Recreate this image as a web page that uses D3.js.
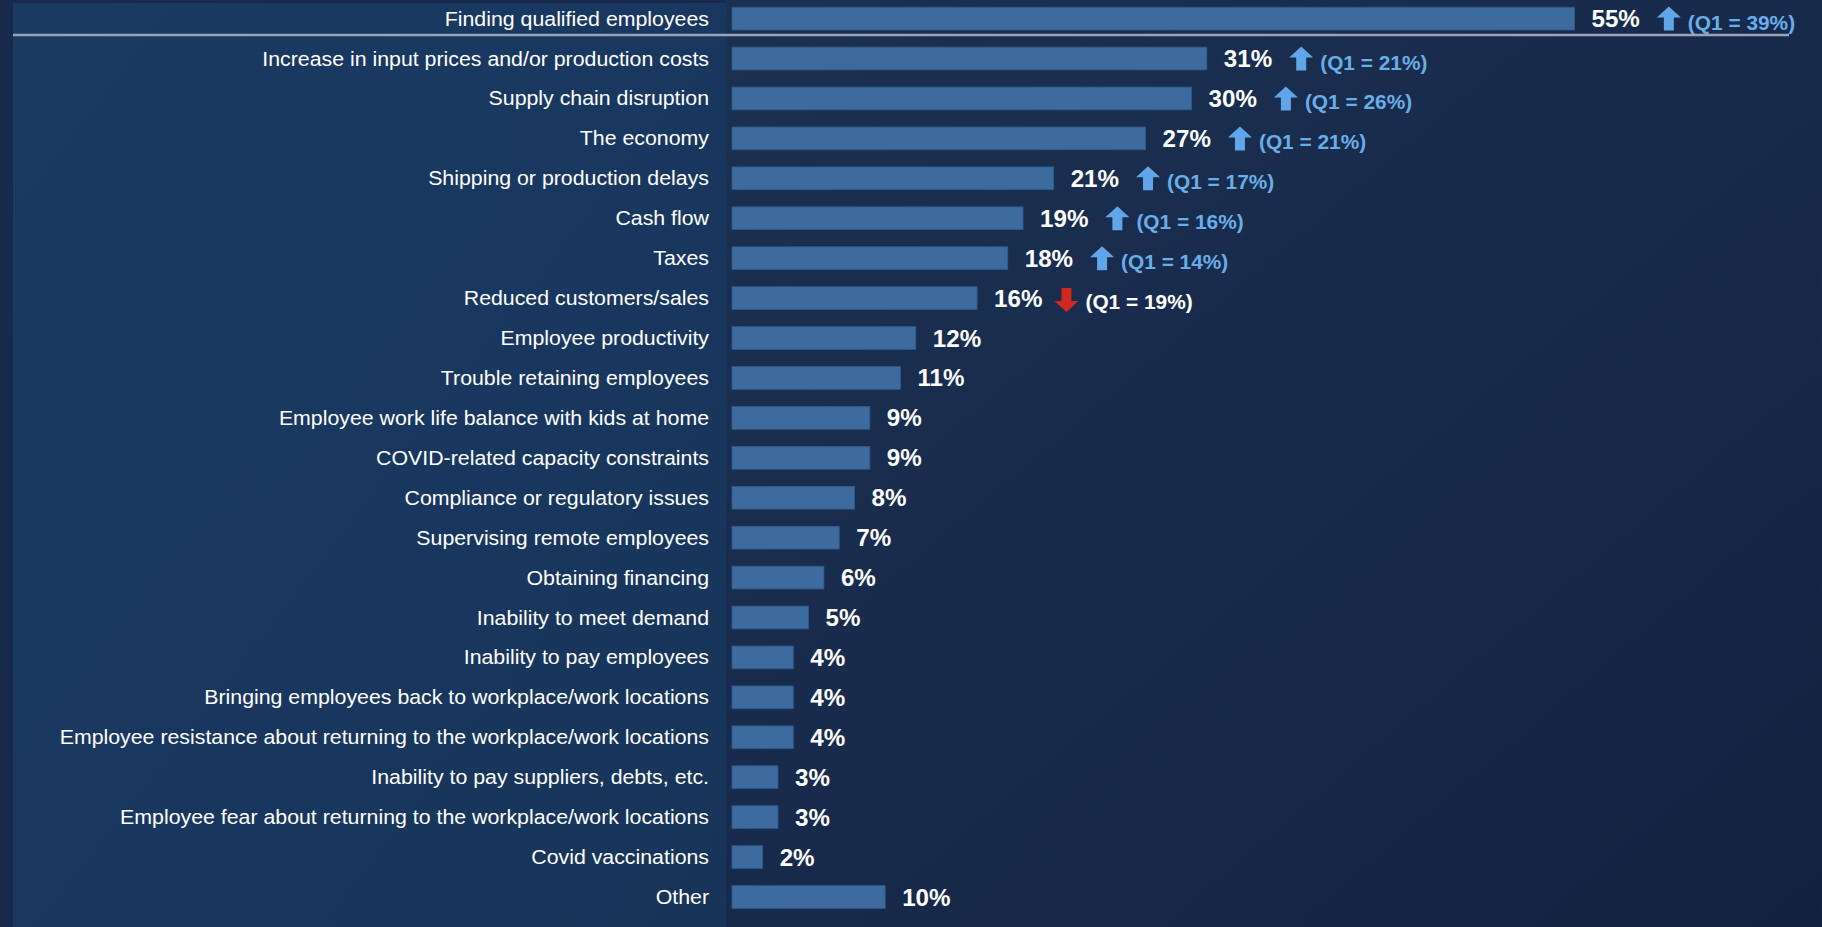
<!DOCTYPE html>
<html>
<head>
<meta charset="utf-8">
<script src="https://cdn.jsdelivr.net/npm/d3@7"></script>
<style>
  html, body { margin: 0; padding: 0; background: #172a4c; }
  svg { display: block; }
  text { font-family: "Liberation Sans", Arial, sans-serif; }
</style>
</head>
<body>
<svg id="chart" width="1822" height="927"></svg>
<script>
// Business challenges, share of respondents (current quarter vs. Q1)
const categories = [
  "Finding qualified employees",
  "Increase in input prices and/or production costs",
  "Supply chain disruption",
  "The economy",
  "Shipping or production delays",
  "Cash flow",
  "Taxes",
  "Reduced customers/sales",
  "Employee productivity",
  "Trouble retaining employees",
  "Employee work life balance with kids at home",
  "COVID-related capacity constraints",
  "Compliance or regulatory issues",
  "Supervising remote employees",
  "Obtaining financing",
  "Inability to meet demand",
  "Inability to pay employees",
  "Bringing employees back to workplace/work locations",
  "Employee resistance about returning to the workplace/work locations",
  "Inability to pay suppliers, debts, etc.",
  "Employee fear about returning to the workplace/work locations",
  "Covid vaccinations",
  "Other"
];
const values = [55, 31, 30, 27, 21, 19, 18, 16, 12, 11, 9, 9, 8, 7, 6, 5, 4, 4, 4, 3, 3, 2, 10];
const q1Values = [39, 21, 26, 21, 17, 16, 14, 19, null, null, null, null, null, null, null, null, null, null, null, null, null, null, null];

const W = 1822, H = 927;
const svg = d3.select("#chart");
const defs = svg.append("defs");

// background gradients
const gRight = defs.append("linearGradient").attr("id", "bgRight")
  .attr("x1", "0").attr("y1", "0").attr("x2", "1").attr("y2", "1");
gRight.append("stop").attr("offset", "0").attr("stop-color", "#1b3152");
gRight.append("stop").attr("offset", "0.5").attr("stop-color", "#182a4b");
gRight.append("stop").attr("offset", "1").attr("stop-color", "#122140");

const gPanel = defs.append("linearGradient").attr("id", "bgPanel")
  .attr("x1", "0").attr("y1", "0").attr("x2", "1").attr("y2", "1");
gPanel.append("stop").attr("offset", "0").attr("stop-color", "#1a3a62");
gPanel.append("stop").attr("offset", "0.6").attr("stop-color", "#19375e");
gPanel.append("stop").attr("offset", "1").attr("stop-color", "#173358");

svg.append("rect").attr("width", W).attr("height", H).attr("fill", "#172a4c");
svg.append("rect").attr("x", 726).attr("y", 0).attr("width", W - 726).attr("height", H).attr("fill", "url(#bgRight)");
svg.append("rect").attr("x", 13).attr("y", 3).attr("width", 713).attr("height", H - 3).attr("fill", "url(#bgPanel)");

// scales
const x = d3.scaleLinear().domain([0, 55]).range([732, 1574.5]);
const step = (897 - 18.6) / (categories.length - 1);
const y = d3.scaleBand()
  .domain(categories)
  .range([18.6 - step / 2, 897 + step / 2])
  .paddingInner(0.43)
  .paddingOuter(0.215);
const cy = d => y(d) + y.bandwidth() / 2;

const SX = 1.094; // horizontal stretch of the category lettering
const VX = 1.05;  // horizontal stretch of the value lettering

// category labels
svg.append("g").selectAll("text")
  .data(categories)
  .join("text")
  .attr("transform", d => `translate(709,${cy(d) + 7}) scale(${SX},1)`)
  .attr("text-anchor", "end")
  .attr("font-size", 19.5)
  .attr("fill", "#ffffff")
  .text(d => d);

// separator under the top item
svg.append("line")
  .attr("x1", 13).attr("x2", 1789)
  .attr("y1", 35).attr("y2", 35)
  .attr("stroke", "#9aa4b4").attr("stroke-width", 2.6);

// bars
svg.append("g").selectAll("rect")
  .data(categories)
  .join("rect")
  .attr("x", x(0))
  .attr("y", d => y(d))
  .attr("width", (d, i) => x(values[i]) - x(0))
  .attr("height", y.bandwidth())
  .attr("fill", "#3e6b9f")
  .attr("stroke", "#30598a")
  .attr("stroke-width", 0.8);

// value labels
const valueLabels = svg.append("g").selectAll("text")
  .data(categories)
  .join("text")
  .attr("transform", (d, i) => `translate(${x(values[i]) + 17},${cy(d) + 8.5}) scale(${VX},1)`)
  .attr("font-size", 23)
  .attr("font-weight", "bold")
  .attr("fill", "#ffffff")
  .text((d, i) => values[i] + "%");

// change markers versus Q1
const arrowPath = (cx, cyy, up) => {
  const s = up ? 1 : -1;
  const pts = [
    [0, -12], [12, -1], [5, -1], [5, 12], [-5, 12], [-5, -1], [-12, -1]
  ].map(([px, py]) => [cx + px, cyy + s * py]);
  return "M" + pts.map(p => p.join(",")).join("L") + "Z";
};

const markers = svg.append("g");
valueLabels.each(function (d, i) {
  const q = q1Values[i];
  if (q == null) return;
  const up = values[i] > q;
  const end = x(values[i]) + 17 + this.getComputedTextLength() * VX;
  const ax = end + (up ? 17 : 12) + 12;
  const ay = cy(d) + (up ? 0 : 2);
  markers.append("path")
    .attr("d", arrowPath(ax, ay, up))
    .attr("fill", up ? "#62a6ea" : "#d0281f");
  markers.append("text")
    .attr("transform", `translate(${ax + 12 + 7},${cy(d) + 11}) scale(1.07,1)`)
    .attr("font-size", 19.5)
    .attr("font-weight", "bold")
    .attr("fill", up ? "#6aaee8" : "#ffffff")
    .text(`(Q1 = ${q}%)`);
});
</script>
</body>
</html>
